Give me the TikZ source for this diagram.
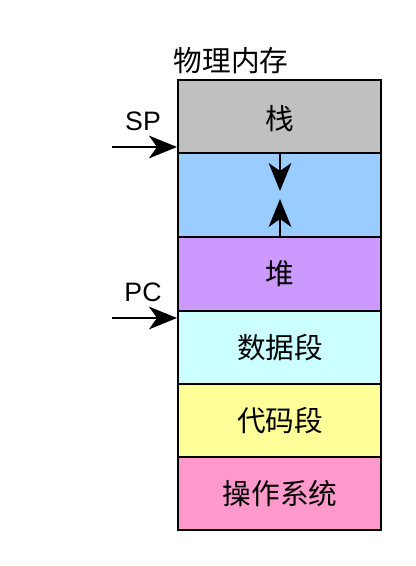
\documentclass[tikz,border=0pt]{standalone}
\usepackage{fontspec}
\setmainfont{Liberation Sans}
\newfontfamily\cjk{Noto Sans CJK SC}[Scale=1]
\usetikzlibrary{arrows.meta}
\begin{document}
\begin{tikzpicture}[x=0.75pt,y=-0.75pt,
  seg/.style={draw=black,line width=1.6pt},
  lbl/.style={font=\cjk\fontsize{21.5pt}{24pt}\selectfont,inner sep=0pt},
  ptr/.style={font=\fontsize{20pt}{22pt}\selectfont,inner sep=0pt},
  arr/.style={line width=1.5pt,-{Stealth[length=21pt,width=17pt,inset=6pt]}}]
\useasboundingbox (0,0) rectangle (415,566);
\path[seg,fill={rgb,255:red,192;green,192;blue,192}] (178,80) rectangle (381,153);
\path[seg,fill={rgb,255:red,153;green,204;blue,255}] (178,153) rectangle (381,237);
\path[seg,fill={rgb,255:red,204;green,153;blue,255}] (178,237) rectangle (381,311);
\path[seg,fill={rgb,255:red,204;green,255;blue,255}] (178,311) rectangle (381,384);
\path[seg,fill={rgb,255:red,255;green,255;blue,153}] (178,384) rectangle (381,457);
\path[seg,fill={rgb,255:red,255;green,153;blue,204}] (178,457) rectangle (381,530);
\node[lbl] (title) at (231,61) {物理内存};
\node[lbl] (stack) at (280,119) {栈};
\node[lbl] (heap) at (280,274) {堆};
\node[lbl] (data) at (280,348) {数据段};
\node[lbl] (code) at (280,421) {代码段};
\node[lbl] (os) at (280,494) {操作系统};
\coordinate (gt) at (280,153);
\coordinate (gb) at (280,191);
\coordinate (ht) at (280,237);
\coordinate (hb) at (280,199);
\draw[arr] (gt) -- (gb);
\draw[arr] (ht) -- (hb);
\node[ptr] (sp) at (143,121) {SP};
\node[ptr] (pc) at (143,292) {PC};
\coordinate (sps) at (112,147);
\coordinate (spe) at (177,147);
\coordinate (pcs) at (112,318);
\coordinate (pce) at (177,318);
\draw[arr] (sps) -- (spe);
\draw[arr] (pcs) -- (pce);
\end{tikzpicture}
\end{document}
